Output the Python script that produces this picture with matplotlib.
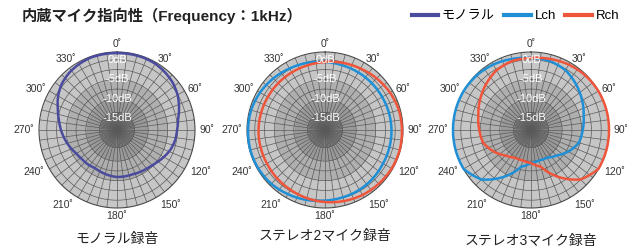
import numpy as np
import matplotlib.pyplot as plt
from matplotlib.lines import Line2D

plt.rcParams['font.family'] = ['Liberation Sans', 'Noto Sans CJK JP', 'DejaVu Sans']

# radial scale in dB
RMIN, RMAX = -18.0, 2.0

# data (dB)
ang10 = np.arange(0, 360, 10)
ang15 = np.arange(0, 360, 15)

mono = [1.74, 1.74, 1.74, 1.62, 1.23, 0.72, -0.05, -1.08, -2.1, -2.6, -2.87, -3.38,
        -4.15, -4.92, -5.44, -5.69, -5.95, -5.95, -5.95, -6.2, -6.46, -6.72, -6.46, -6.33,
        -5.95, -5.18, -4.41, -3.64, -2.87, -1.85, -0.56, 0.46, 1.1, 1.49, 1.74, 1.74]

st2_r = [-0.56, -0.18, 0.2, 0.72, 1.23, 1.62, 1.74, 1.82, 1.74, 1.49, 1.23, 0.85,
         0.46, 0.08, -0.31, -0.56, -0.82, -0.9, -0.95, -1.03, -1.08, -1.03, -0.95, -0.82]
st2_l = [-0.56, -0.82, -0.95, -1.03, -1.08, -1.03, -0.95, -0.9, -0.82, -0.56, -0.31, -0.15,
         0.1, 0.55, 1.0, 1.49, 1.74, 1.82, 1.74, 1.62, 1.23, 0.72, 0.2, -0.18]

st3_r = [0.46, 0.85, 1.36, 1.74, 1.95, 2.0, 2.0, 2.0, 1.95, -0.05, -4.15, -8.26,
         -9.54, -9.92, -9.79, -8.77, -6.97, -5.31, -4.74, -4.03, -2.87, -1.59, -0.31, 0.33]
st3_l = [0.46, 0.33, -0.31, -1.59, -2.87, -4.03, -4.74, -5.31, -6.97, -8.77, -9.79, -9.92,
         -9.54, -8.26, -4.15, -0.05, 1.95, 2.0, 2.0, 2.0, 1.95, 1.74, 1.36, 0.85]

db_labels = [0, -5, -10, -15]
deg_labels = list(range(0, 360, 30))
titles = ['モノラル録音', 'ステレオ2マイク録音', 'ステレオ3マイク録音']

C_MONO = '#4b4b9e'
C_L = '#1f8fd6'
C_R = '#ef553b'

W, H = 627, 250
PX = 3.9  # pixels per dB
fig = plt.figure(figsize=(W / 100, H / 100), dpi=100)


def closed(a, v):
    a = np.deg2rad(np.append(a, a[0] + 360))
    return a, np.append(v, v[0])


def curve(ax, a, v, c):
    ln, = ax.plot(*closed(a, v), color=c, lw=1.8, zorder=4, clip_on=False)
    # let the polar transform draw each segment as a curve
    ln.get_path()._interpolation_steps = 24
    return ln


def base(cx, cy, rad=78):
    ax = fig.add_axes([(cx - rad) / W, (H - cy - rad) / H, 2 * rad / W, 2 * rad / H],
                      projection='polar')
    ax.set_theta_zero_location('N')
    ax.set_theta_direction(-1)
    ax.set_ylim(RMIN, RMAX)
    ax.set_xticks([])
    ax.set_yticks([])
    ax.grid(False)
    ax.spines['polar'].set_visible(False)
    ax.patch.set_alpha(0)
    th = np.linspace(0, 2 * np.pi, 361)
    for lo, hi, c in [(-5, RMAX, '#c6c6c6'), (-10, -5, '#afafaf'),
                      (-13.5, -10, '#999999'), (RMIN, -13.5, '#858585')]:
        ax.fill_between(th, lo, hi, color=c, lw=0)
    for d in [0, -2.5, -5, -7.5, -10, -13.5]:
        ax.plot(th, np.full_like(th, d), color='#5a5a5a', lw=0.5)
    for a in np.arange(0, 360, 7.5):
        ax.plot([np.deg2rad(a)] * 2, [-13.5, RMAX], color='#5a5a5a', lw=0.5)
    for a in np.arange(0, 360, 5):
        ax.plot([np.deg2rad(a)] * 2, [RMIN, -13.5], color='#5a5a5a', lw=0.5)
    ax.plot(th, np.full_like(th, RMAX), color='#4a4a4a', lw=0.8, clip_on=False)
    for d in db_labels:
        ax.text(0, d, f'{d}dB', color='white', ha='center', va='center', fontsize=8, zorder=5)
    for a in deg_labels:
        t = np.deg2rad(a)
        s = np.sin(t)
        if abs(s) < 0.1:
            ha, rpx = 'center', 86
        else:
            ha = 'left' if s > 0 else 'right'
            rpx = 82.5 + 3.5 * (1 - abs(s)) - 3 * np.cos(t)
        ax.text(t, RMIN + rpx / PX, f'{a}˚', ha=ha, va='center',
                fontsize=7.5, color='#333333', clip_on=False)
    return ax


centers = [(117, 130), (325, 130), (531, 130)]
axs = [base(cx, cy) for cx, cy in centers]

curve(axs[0], ang10, mono, C_MONO)
curve(axs[1], ang15, st2_l, C_L)
curve(axs[1], ang15, st2_r, C_R)
curve(axs[2], ang15, st3_l, C_L)
curve(axs[2], ang15, st3_r, C_R)

for (cx, cy), t, dy in zip(centers, titles, [239, 236, 241]):
    fig.text(cx / W, 1 - dy / H, t, ha='center', va='center', fontsize=10, color='#222222')

fig.text(22 / W, 1 - 16 / H, '内蔵マイク指向性（Frequency：1kHz）', fontsize=11,
         fontweight='bold', va='center', color='#222222')

handles = [Line2D([], [], color=C_MONO, lw=3), Line2D([], [], color=C_L, lw=3),
           Line2D([], [], color=C_R, lw=3)]
fig.legend(handles, ['モノラル', 'Lch', 'Rch'], loc='center right',
           bbox_to_anchor=(1.0, 1 - 16 / H), ncol=3, frameon=False, fontsize=9.5,
           handlelength=2.0, handletextpad=0.3, columnspacing=0.7, borderaxespad=0.2)

fig.savefig('out.png', dpi=100)
